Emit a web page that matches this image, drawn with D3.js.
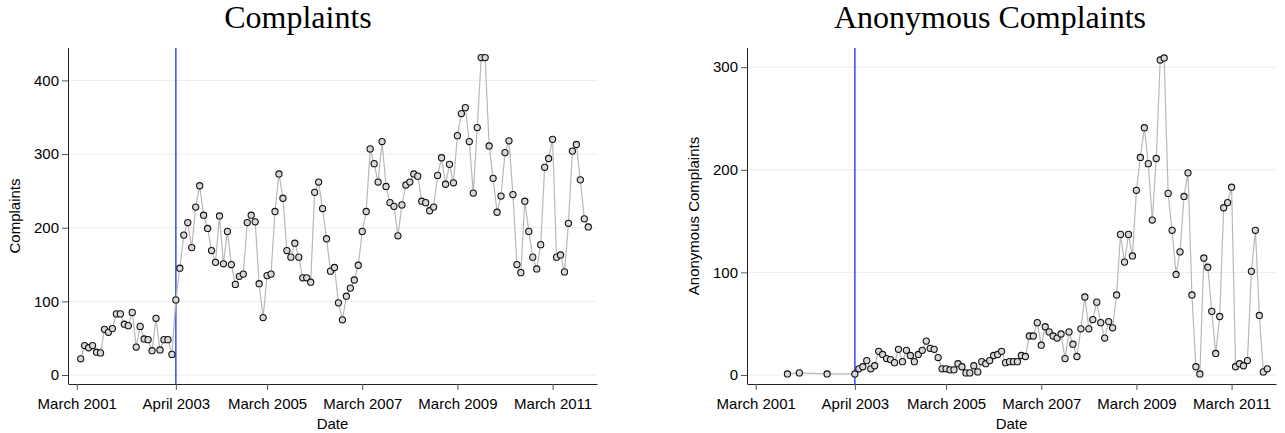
<!DOCTYPE html>
<html>
<head>
<meta charset="utf-8">
<script src="https://cdn.jsdelivr.net/npm/d3@7"></script>
<style>
  body { margin: 0; background: #fff; }
  svg text { font-family: "Liberation Sans", Arial, Helvetica, sans-serif; fill: #000; }
  .title { font-family: "Liberation Serif", "Times New Roman", serif !important; }
</style>
</head>
<body>
<svg id="chart" width="1285" height="433"></svg>
<script>
// month names for tick labels
var monthNames = ["January","February","March","April","May","June","July",
                  "August","September","October","November","December"];

// tick labels (year, month)
var xTicks = [[2001,3],[2003,4],[2005,3],[2007,3],[2009,3],[2011,3]];
var complaintTicks = [0, 100, 200, 300, 400];
var anonTicks = [0, 100, 200, 300];

// reform date (vertical line)
var reformDate = [2003, 4];

// monthly complaints, April 2001 .. December 2011
var complaintsStart = [2001, 4];
var complaints = [
  22, 40, 37, 40, 31, 30, 62, 58, 63, 83, 83, 69, 67, 85, 38, 66, 49, 48, 33, 77,
  34, 48, 48, 28, 102, 145, 190, 207, 173, 228, 257, 217, 199, 169, 153, 216, 151, 195, 150, 123,
  134, 137, 207, 217, 208, 124, 78, 135, 137, 222, 273, 240, 169, 160, 179, 160, 132, 132, 126, 248,
  262, 226, 185, 141, 146, 98, 75, 107, 118, 129, 149, 195, 222, 307, 287, 262, 317, 256, 234, 229,
  189, 231, 258, 262, 273, 270, 236, 234, 223, 228, 271, 295, 259, 286, 261, 325, 355, 363, 317, 247,
  336, 431, 431, 311, 267, 221, 243, 302, 318, 245, 150, 139, 236, 195, 160, 144, 177, 282, 294, 320,
  160, 163, 140, 206, 304, 313, 265, 212, 201
];

// anonymous complaints: a few early months, then monthly from April 2003
var anonEarlyDates = [[2001,11],[2002,2],[2002,9]];
var anonEarly = [1, 2, 1];
var anonStart = [2003, 4];
var anon = [
  1, 6, 8, 14, 6, 9, 23, 20, 16, 15, 12, 25, 13, 24, 19, 13, 20, 24, 33, 26,
  25, 17, 6, 6, 5, 5, 11, 8, 2, 2, 9, 3, 13, 11, 14, 19, 20, 23, 12, 13,
  13, 13, 19, 18, 38, 38, 51, 29, 47, 42, 38, 36, 40, 16, 42, 30, 18, 45, 76, 45,
  54, 71, 51, 36, 52, 46, 78, 137, 110, 137, 116, 180, 212, 241, 206, 151, 211, 307, 309, 177,
  141, 98, 120, 174, 197, 78, 8, 1, 114, 105, 62, 21, 57, 163, 168, 183, 8, 11, 9, 14,
  101, 141, 58, 3, 6
];

function mi(ym) { return ym[0] * 12 + (ym[1] - 1); }
function fromStart(start, i) { return mi(start) + i; }

var complaintsData = complaints.map(function(v, i) {
  return { m: fromStart(complaintsStart, i), v: v };
});
var anonData = anonEarlyDates.map(function(d, i) { return { m: mi(d), v: anonEarly[i] }; })
  .concat(anon.map(function(v, i) { return { m: fromStart(anonStart, i), v: v }; }));

var svg = d3.select("#chart");

function drawPanel(opts) {
  var left = opts.left, right = opts.right, top = 48, bottom = 384;
  var base = mi([2001, 3]);

  var x = d3.scaleLinear()
      .domain([base - 2.2, base + 131.2])
      .range([left, right]);
  var y = d3.scaleLinear()
      .domain(opts.yDomain)
      .range([bottom, top]);

  var g = svg.append("g");

  // gridlines
  g.selectAll("line.grid")
    .data(opts.yTicks)
    .enter().append("line")
      .attr("class", "grid")
      .attr("x1", left).attr("x2", right)
      .attr("y1", function(d) { return y(d); })
      .attr("y2", function(d) { return y(d); })
      .attr("stroke", "#ececec")
      .attr("stroke-width", 1);

  // Y axis
  var yAxis = d3.axisLeft(y)
      .tickValues(opts.yTicks)
      .tickSize(6)
      .tickPadding(3)
      .tickSizeOuter(0);
  var ya = g.append("g")
      .attr("transform", "translate(" + left + ",0)")
      .call(yAxis);
  ya.select(".domain").attr("stroke", "#222").attr("d", "M0.5," + top + "V" + bottom);
  ya.selectAll(".tick line").attr("stroke", "#555");
  ya.selectAll(".tick text").style("font-size", "15px").attr("fill", "#000");

  // X axis
  var xAxis = d3.axisBottom(x)
      .tickValues(xTicks.map(mi))
      .tickFormat(function(d) { return monthNames[d % 12] + " " + Math.floor(d / 12); })
      .tickSize(6)
      .tickPadding(8)
      .tickSizeOuter(0);
  var xa = g.append("g")
      .attr("transform", "translate(0," + bottom + ")")
      .call(xAxis);
  xa.select(".domain").attr("stroke", "#222");
  xa.selectAll(".tick line").attr("stroke", "#555");
  xa.selectAll(".tick text").style("font-size", "15px").attr("fill", "#000");

  // reform line
  g.append("line")
    .attr("x1", x(mi(reformDate))).attr("x2", x(mi(reformDate)))
    .attr("y1", top).attr("y2", bottom)
    .attr("stroke", "#3d55f2")
    .attr("stroke-width", 1.6);

  // series line
  var line = d3.line()
      .x(function(d) { return x(d.m); })
      .y(function(d) { return y(d.v); });
  g.append("path")
    .datum(opts.data)
    .attr("d", line)
    .attr("fill", "none")
    .attr("stroke", "#b8b8b8")
    .attr("stroke-width", 1.2);

  // markers
  g.selectAll("circle")
    .data(opts.data)
    .enter().append("circle")
      .attr("cx", function(d) { return x(d.m); })
      .attr("cy", function(d) { return y(d.v); })
      .attr("r", 3.1)
      .attr("fill", "#d8d8d8")
      .attr("stroke", "#111")
      .attr("stroke-width", 1.1);

  // titles
  svg.append("text")
    .attr("class", "title")
    .attr("x", opts.titleX)
    .attr("y", 28)
    .attr("text-anchor", "middle")
    .style("font-size", "32px")
    .text(opts.title);

  svg.append("text")
    .attr("x", (left + right) / 2)
    .attr("y", 429)
    .attr("text-anchor", "middle")
    .style("font-size", "15px")
    .text("Date");

  svg.append("text")
    .attr("transform", "translate(" + opts.yLabelX + "," + ((top + bottom) / 2) + ") rotate(-90)")
    .attr("text-anchor", "middle")
    .style("font-size", "15px")
    .text(opts.yLabel);
}

drawPanel({
  left: 68, right: 597,
  yDomain: [-12.2, 444],
  yTicks: complaintTicks,
  data: complaintsData,
  title: "Complaints",
  titleX: 298,
  yLabel: "Complaints",
  yLabelX: 20
});

drawPanel({
  left: 747, right: 1276,
  yDomain: [-8.8, 318.7],
  yTicks: anonTicks,
  data: anonData,
  title: "Anonymous Complaints",
  titleX: 990,
  yLabel: "Anonymous Complaints",
  yLabelX: 699
});
</script>
</body>
</html>
